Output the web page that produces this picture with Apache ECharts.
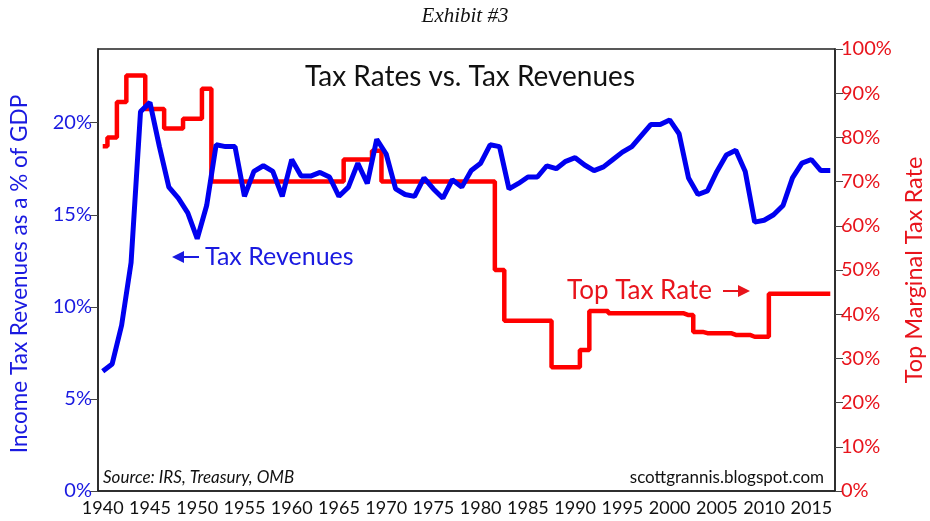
<!DOCTYPE html>
<html>
<head>
<meta charset="utf-8">
<title>Tax Rates vs. Tax Revenues</title>
<script src="https://cdn.jsdelivr.net/npm/echarts@6/dist/echarts.min.js"></script>
<style>
  html, body { margin: 0; padding: 0; background: #fff; }
  #chart { width: 930px; height: 521px; }
</style>
</head>
<body>
<div id="chart"></div>
<script>
// years 1940 .. 2017
var years = [];
for (var y = 1940; y <= 2017; y++) years.push(String(y));

// income tax revenues as % of GDP
var taxRevenues = [
  6.5, 6.9, 9.0, 12.4, 20.6, 21.1, 18.7, 16.5, 15.9, 15.1,
  13.7, 15.5, 18.8, 18.7, 18.7, 16.0, 17.35, 17.66, 17.35, 16.0,
  18.0, 17.1, 17.1, 17.3, 17.05, 16.0, 16.5, 17.8, 16.7, 19.1,
  18.3, 16.4, 16.1, 16.0, 17.0, 16.4, 15.9, 16.9, 16.5, 17.4,
  17.8, 18.8, 18.7, 16.4, 16.7, 17.05, 17.05, 17.66, 17.5, 17.9,
  18.1, 17.7, 17.4, 17.6, 18.0, 18.4, 18.7, 19.3, 19.9, 19.9,
  20.15, 19.4, 17.0, 16.1, 16.3, 17.35, 18.25, 18.5, 17.35, 14.6,
  14.7, 15.0, 15.5, 17.0, 17.8, 18.0, 17.4, 17.4
];

// top marginal tax rate, %
var topRate = [
  78, 80, 88, 94, 94, 86.4, 86.4, 82, 82, 84.2,
  84.2, 91, 70, 70, 70, 70, 70, 70, 70, 70,
  70, 70, 70, 70, 70, 70, 75, 75, 75, 77,
  70, 70, 70, 70, 70, 70, 70, 70, 70, 70,
  70, 70, 50, 38.5, 38.5, 38.5, 38.5, 38.5, 28, 28,
  28, 31.9, 40.7, 40.7, 40.2, 40.2, 40.2, 40.2, 40.2, 40.2,
  40.2, 40.2, 39.8, 36.0, 35.7, 35.7, 35.7, 35.3, 35.3, 34.9,
  34.9, 44.6, 44.6, 44.6, 44.6, 44.6, 44.6, 44.6
];

var BLUE = '#0000f0';
var RED = '#ff0000';
var font = 'Lato, "DejaVu Sans", sans-serif';

var chart = echarts.init(document.getElementById('chart'));

var option = {
  animation: false,
  backgroundColor: '#fff',
  textStyle: { fontFamily: font },
  grid: {
    left: 98, right: 95, top: 49, bottom: 30,
    show: true, borderColor: '#222', borderWidth: 1.5
  },
  xAxis: {
    type: 'category',
    data: years,
    boundaryGap: true,
    axisLine: { lineStyle: { color: '#222', width: 1.5 } },
    axisTick: { interval: 0, length: 7, lineStyle: { color: '#444' } },
    axisLabel: {
      interval: function (i, v) { return +v % 5 === 0; },
      color: '#111', fontSize: 18, margin: 8, fontFamily: font
    },
    splitLine: { show: false }
  },
  yAxis: [
    {
      type: 'value', position: 'left',
      min: 0, max: 24, interval: 5,
      axisLine: { show: true, lineStyle: { color: '#222', width: 1.5 } },
      axisTick: { show: true, length: 8, lineStyle: { color: '#444' } },
      axisLabel: {
        color: '#1a1ae0', fontSize: 20, margin: 6, fontFamily: font,
        formatter: function (v) { return v % 5 === 0 ? v + '%' : ''; }
      },
      splitLine: { show: false }
    },
    {
      type: 'value', position: 'right',
      min: 0, max: 100, interval: 10,
      axisLine: { show: true, lineStyle: { color: '#222', width: 1.5 } },
      axisTick: { show: true, length: 8, lineStyle: { color: '#444' } },
      axisLabel: {
        color: '#e8141c', fontSize: 20, margin: 6, fontFamily: font,
        formatter: '{value}%'
      },
      splitLine: { show: false }
    }
  ],
  series: [
    {
      name: 'Top Tax Rate',
      type: 'line',
      yAxisIndex: 1,
      data: topRate,
      step: 'middle',
      symbol: 'none',
      lineStyle: { color: RED, width: 4.5 },
      z: 2
    },
    {
      name: 'Tax Revenues',
      type: 'line',
      yAxisIndex: 0,
      data: taxRevenues,
      symbol: 'none',
      lineStyle: { color: BLUE, width: 5 },
      z: 3
    }
  ],
  graphic: [
    // cover the unlabelled 24% tick at the top of the left axis
    {
      type: 'rect', z: 100,
      shape: { x: 86, y: 45, width: 11, height: 8 },
      style: { fill: '#fff' }
    },
    {
      type: 'text', left: 'center', top: 6,
      style: {
        text: 'Exhibit #3', fill: '#111',
        font: 'italic 21px "Liberation Serif", serif'
      }
    },
    {
      type: 'text', x: 470, y: 77,
      style: {
        text: 'Tax Rates vs. Tax Revenues', fill: '#111',
        font: '28px ' + font, align: 'center', verticalAlign: 'middle'
      }
    },
    {
      type: 'text', x: 20, y: 274, rotation: Math.PI / 2,
      style: {
        text: 'Income Tax Revenues as a % of GDP', fill: '#1a1ae0',
        font: '22.5px ' + font, align: 'center', verticalAlign: 'middle'
      }
    },
    {
      type: 'text', x: 914, y: 270, rotation: Math.PI / 2,
      style: {
        text: 'Top Marginal Tax Rate', fill: '#e8141c',
        font: '23.5px ' + font, align: 'center', verticalAlign: 'middle'
      }
    },
    // "<- Tax Revenues" annotation
    {
      type: 'polygon',
      shape: { points: [[172, 257], [184, 251], [184, 263]] },
      style: { fill: '#1a1ae0' }
    },
    {
      type: 'line',
      shape: { x1: 182, y1: 257, x2: 199, y2: 257 },
      style: { stroke: '#1a1ae0', lineWidth: 2 }
    },
    {
      type: 'text', x: 205, y: 257,
      style: {
        text: 'Tax Revenues', fill: '#1a1ae0',
        font: '25px ' + font, verticalAlign: 'middle'
      }
    },
    // "Top Tax Rate ->" annotation
    {
      type: 'text', x: 567, y: 291,
      style: {
        text: 'Top Tax Rate', fill: '#e8141c',
        font: '26px ' + font, verticalAlign: 'middle'
      }
    },
    {
      type: 'line',
      shape: { x1: 723, y1: 291, x2: 740, y2: 291 },
      style: { stroke: '#e8141c', lineWidth: 2 }
    },
    {
      type: 'polygon',
      shape: { points: [[750, 291], [738, 285], [738, 297]] },
      style: { fill: '#e8141c' }
    },
    {
      type: 'text', x: 103, y: 478,
      style: {
        text: 'Source: IRS, Treasury, OMB', fill: '#111',
        font: 'italic 17px ' + font, verticalAlign: 'middle'
      }
    },
    {
      type: 'text', x: 824, y: 478,
      style: {
        text: 'scottgrannis.blogspot.com', fill: '#111',
        font: '17px ' + font, align: 'right', verticalAlign: 'middle'
      }
    }
  ]
};

chart.setOption(option);
</script>
</body>
</html>
